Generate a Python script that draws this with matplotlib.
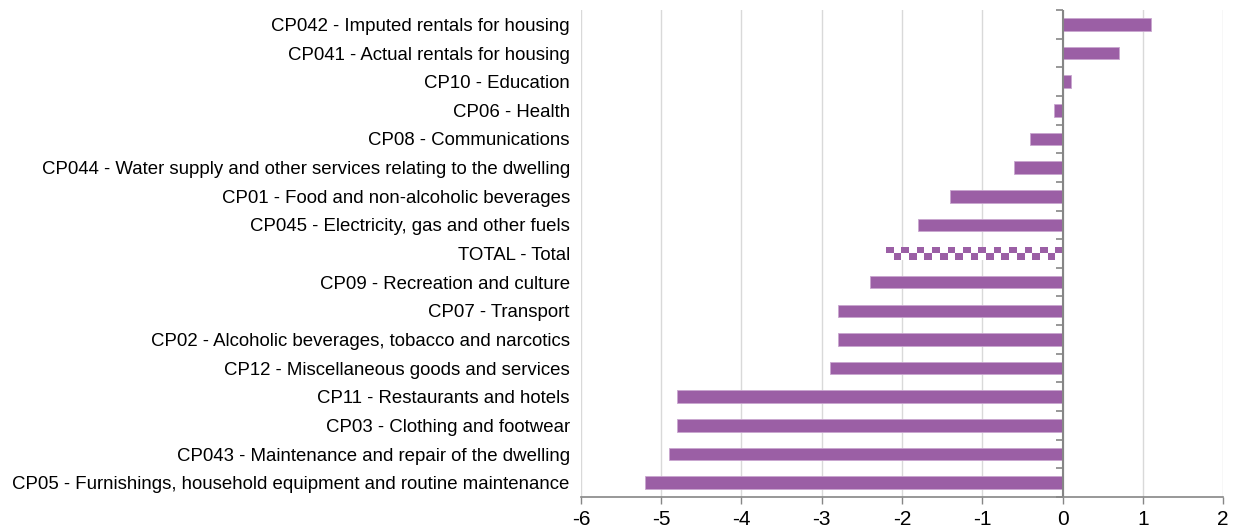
import numpy as np
import matplotlib
matplotlib.use("Agg")
import matplotlib.pyplot as plt

plt.rcParams['font.family'] = ['Liberation Sans', 'DejaVu Sans']

# top to bottom as in the chart
categories = [
    "CP042 - Imputed rentals for housing",
    "CP041 - Actual rentals for housing",
    "CP10 - Education",
    "CP06 - Health",
    "CP08 - Communications",
    "CP044 - Water supply and other services relating to the dwelling",
    "CP01 - Food and non-alcoholic beverages",
    "CP045 - Electricity, gas and other fuels",
    "TOTAL - Total",
    "CP09 - Recreation and culture",
    "CP07 - Transport",
    "CP02 - Alcoholic beverages, tobacco and narcotics",
    "CP12 - Miscellaneous goods and services",
    "CP11 - Restaurants and hotels",
    "CP03 - Clothing and footwear",
    "CP043 - Maintenance and repair of the dwelling",
    "CP05 - Furnishings, household equipment and routine maintenance",
]
values = [1.1, 0.7, 0.1, -0.1, -0.4, -0.6, -1.4, -1.8, -2.2, -2.4, -2.8, -2.8,
          -2.9, -4.8, -4.8, -4.9, -5.2]
xticks = [-6, -5, -4, -3, -2, -1, 0, 1, 2]

purple = "#9B5FA5"
grey = "#868686"

fig = plt.figure(figsize=(12.34, 5.28), dpi=100)
ax = fig.add_axes([0.4708, 0.0587, 0.5203, 0.9223])

n = len(categories)
ypos = np.arange(n)[::-1]
h = 0.44

for y, v, c in zip(ypos, values, categories):
    if c.startswith("TOTAL"):
        # checkerboard fill for the total bar
        ncols = int(round(abs(v) / 0.095))
        board = (np.indices((2, ncols)).sum(axis=0) + 1) % 2
        cmap = matplotlib.colors.ListedColormap(["white", purple])
        bar = ax.barh(y, v, height=h, color="none", edgecolor="none")[0]
        im = ax.imshow(board, cmap=cmap, extent=(v, 0, y - h / 2, y + h / 2),
                       aspect="auto", interpolation="nearest", zorder=3)
        im.set_clip_path(bar)
    else:
        ax.barh(y, v, height=h, color=purple, edgecolor="#C9A6CF",
                linewidth=0.6, zorder=3)

ax.set_xlim(-6, 2)
ax.set_ylim(-0.5, n - 0.5)
ax.set_xticks(xticks)
ax.set_xticklabels([str(t) for t in xticks], fontsize=15)
ax.set_yticks(ypos)
ax.set_yticklabels(categories, fontsize=13.4)
ax.tick_params(axis="y", length=0, pad=8)
ax.tick_params(axis="x", length=5, color=grey, width=1, pad=4)

ax.grid(axis="x", color="#D9D9D9", linewidth=1, zorder=0)
ax.set_axisbelow(True)

for s in ["top", "right", "left"]:
    ax.spines[s].set_visible(False)
ax.spines["bottom"].set_color(grey)
ax.spines["bottom"].set_linewidth(1.2)

# category axis at x = 0 with ticks between categories
ax.axvline(0, color=grey, linewidth=1.5, zorder=4)
bounds = np.arange(n + 1) - 0.5
ax.plot(np.zeros(n + 1), bounds, ls="", marker=0, ms=5, mew=1.2,
        color=grey, zorder=4, clip_on=False)

fig.savefig("out.png", dpi=100)
